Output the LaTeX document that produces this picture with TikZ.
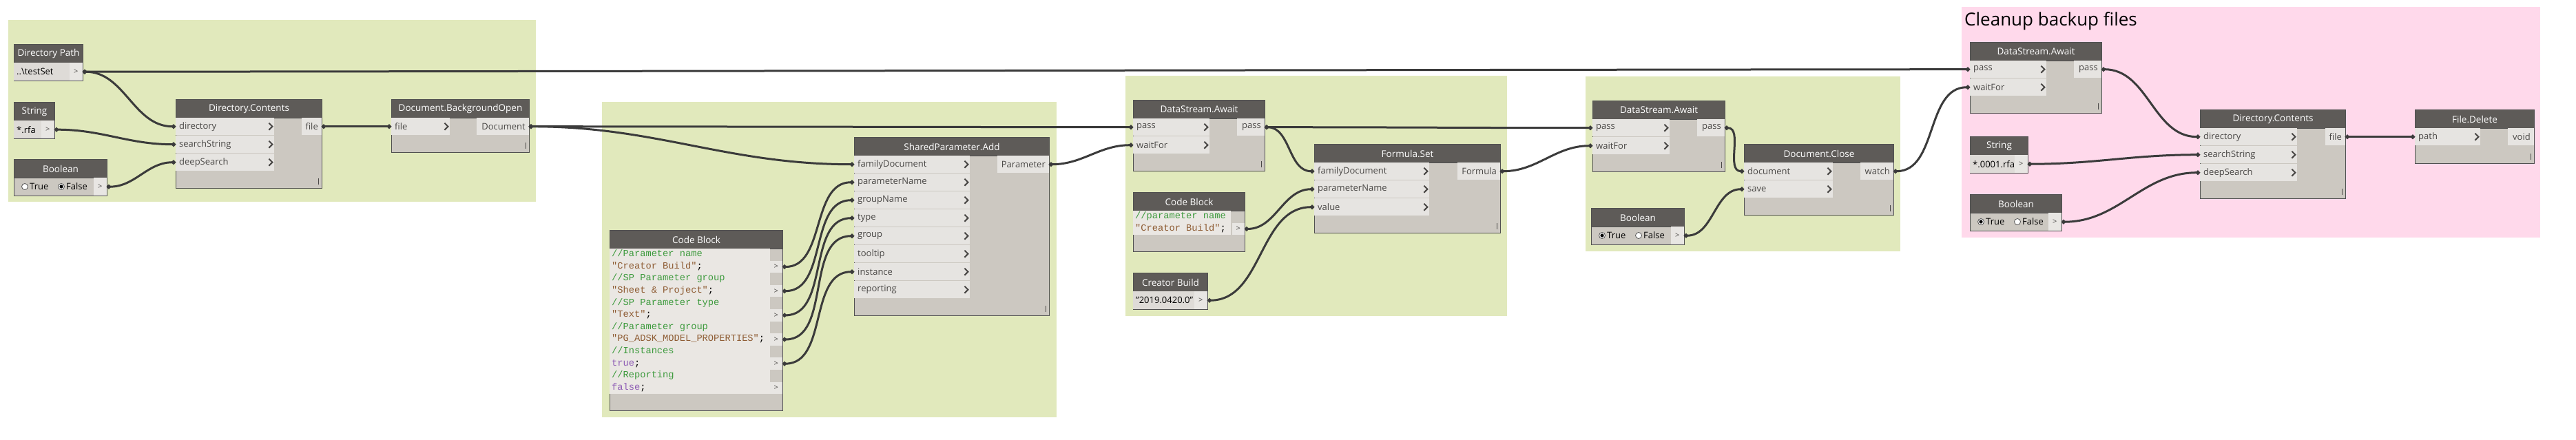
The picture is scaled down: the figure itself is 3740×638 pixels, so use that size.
\documentclass[tikz,border=0pt]{standalone}
\usepackage{fontspec}
\setmainfont{Open Sans}
\setmonofont{Liberation Mono}
\usetikzlibrary{arrows.meta}
\definecolor{grpgreen}{HTML}{E1E9BC}
\definecolor{grppink}{HTML}{FFD9EB}
\definecolor{headc}{HTML}{5E5B58}
\definecolor{bodyc}{HTML}{CCC8C1}
\definecolor{rowc}{HTML}{E6E4E1}
\definecolor{cellc}{HTML}{E8E6E3}
\definecolor{valc}{HTML}{DEDBD7}
\definecolor{edgec}{HTML}{505050}
\definecolor{wirec}{HTML}{3B3B3B}
\definecolor{labelc}{HTML}{4A4846}
\definecolor{codebg}{HTML}{EAE7E3}
\definecolor{cmtgreen}{HTML}{3C9A3C}
\definecolor{strbrown}{HTML}{8E5C33}
\definecolor{kwpurple}{HTML}{8E5CB5}
\tikzset{
  grp/.style={anchor=north west, inner sep=0},
  grptitle/.style={font=\fontsize{26}{30}\selectfont, anchor=base west, inner sep=0},
  dynbody/.style={anchor=north west, fill=bodyc, draw=edgec, line width=1pt, inner sep=0},
  dynhead/.style={
    anchor=north west,
    fill=headc,
    draw=edgec,
    line width=1pt,
    inner sep=0,
    minimum height=27pt,
    text=white,
    font=\fontsize{13.5}{15}\selectfont
  },
  inrow/.style={anchor=north west, fill=rowc, inner sep=0, minimum height=25pt},
  outrow/.style={anchor=north east, fill=rowc, inner sep=0, minimum height=25pt},
  portlbl/.style={font=\fontsize{13}{15}\selectfont, text=labelc, inner xsep=5pt, inner ysep=0},
  chev/.style={draw=labelc, line width=2pt},
  outcell/.style={
    anchor=north east,
    fill=cellc,
    inner sep=0,
    minimum width=19pt,
    minimum height=26pt,
    font=\fontsize{11}{13}\selectfont,
    text=labelc
  },
  codecell/.style={outcell, minimum width=18pt, minimum height=17.5pt},
  valbox/.style={anchor=north west, fill=valc, inner sep=0, minimum height=26pt},
  vallbl/.style={font=\fontsize{13}{15}\selectfont, text=black, inner xsep=4pt, inner ysep=0},
  radio/.style={circle, draw=edgec, fill=white, line width=0.8pt, inner sep=0, minimum size=9pt},
  code/.style={anchor=west, inner sep=0, text height=8pt, text depth=2pt, font=\ttfamily\fontsize{13.7}{15}\selectfont},
  longwire/.style={
    draw=wirec,
    line width=3pt,
    {Circle[length=6pt,width=6pt]}-{Circle[length=6pt,width=6pt]}
  },
  wire/.style={longwire, out=0, in=180},
  tickline/.style={draw=labelc, line width=1pt}
}
% frame and header of a Dynamo node
\newcommand{\dynnode}[6]{%
  \node[dynbody, minimum width=#4pt-#2pt, minimum height=#5pt-#3pt] (#1) at (#2,#3) {};
  \node[dynhead, minimum width=#4pt-#2pt] (#1-head) at (#2,#3) {#6};
}
\newcommand{\funcnode}[6]{%
  \dynnode{#1}{#2}{#3}{#4}{#5}{#6}
  \draw[tickline] ([shift={(-6pt,6pt)}]#1.south east) -- ++(0pt,9pt);
}
\newcommand{\inport}[5]{%
  \node[inrow, minimum width=#4pt] (#1) at (#2,#3) {};
  \node[portlbl, anchor=west] (#1-lbl) at (#1.west) {#5};
  \draw[chev] ([shift={(-8pt,5pt)}]#1.east) -- ([shift={(-3pt,0pt)}]#1.east) -- ([shift={(-8pt,-5pt)}]#1.east);
}
\newcommand{\outport}[5]{%
  \node[outrow, minimum width=#4pt] (#1) at (#2,#3) {};
  \node[portlbl, anchor=east] (#1-lbl) at (#1.east) {#5};
}
\newcommand{\valnode}[6]{%
  \dynnode{#1}{#2}{#3}{#4}{#3+53}{#5}
  \node[valbox, minimum width=#4pt-#2pt-19pt] (#1-val) at (#2,#3+27) {};
  \node[vallbl, anchor=west] (#1-txt) at (#1-val.west) {#6};
  \node[outcell] (#1-out) at (#4,#3+27) {>};
}
\newcommand{\boolnode}[5]{%
  \dynnode{#1}{#2}{#3}{#4}{#3+53}{Boolean}
  \node[outcell] (#1-out) at (#4,#3+27) {>};
  \node[radio] (#1-t) at (#2+16,#3+40) {};
  \node[vallbl, anchor=west] (#1-tl) at (#2+19,#3+40) {True};
  \node[radio] (#1-f) at (#2+69,#3+40) {};
  \node[vallbl, anchor=west] (#1-fl) at (#2+72,#3+40) {False};
  \fill[black] (#1-#5) circle (2.6pt);
}

\begin{document}
\begin{tikzpicture}[x=1pt, y=-1pt]

\useasboundingbox (0,0) rectangle (3740,638);
\fill[white] (0,0) rectangle (3740,638);

% groups
\node[grp, fill=grpgreen, minimum width=766pt, minimum height=264pt] (grp1) at (12,29) {};
\node[grp, fill=grpgreen, minimum width=660pt, minimum height=458pt] (grp2) at (874,148) {};
\node[grp, fill=grpgreen, minimum width=554pt, minimum height=349pt] (grp3) at (1634,110) {};
\node[grp, fill=grpgreen, minimum width=457pt, minimum height=254pt] (grp4) at (2302,111) {};
\node[grp, fill=grppink, minimum width=840pt, minimum height=335pt] (grp5) at (2848,10) {};
\node[grptitle] (grp5-title) at (2852,37) {Cleanup backup files};

% inputs of the first group
\valnode{dirpath}{20}{64}{120}{Directory Path}{..\textbackslash testSet}
\valnode{str1}{20}{148}{79}{String}{*.rfa}
\boolnode{bool1}{20}{231}{155}{f}

\funcnode{dc1}{255}{144}{467}{273}{Directory.Contents}
\inport{dc1-dir}{255}{171}{143}{directory}
\inport{dc1-search}{255}{197}{143}{searchString}
\inport{dc1-deep}{255}{223}{143}{deepSearch}
\outport{dc1-file}{467}{171}{29}{file}

\funcnode{open}{568}{144}{768}{221}{Document.BackgroundOpen}
\inport{open-file}{568}{171}{85}{file}
\outport{open-doc}{768}{171}{76}{Document}

% shared parameter
\funcnode{spa}{1240}{199}{1523}{458}{SharedParameter.Add}
\inport{spa-famdoc}{1240}{226}{168}{familyDocument}
\inport{spa-pname}{1240}{252}{168}{parameterName}
\inport{spa-gname}{1240}{278}{168}{groupName}
\inport{spa-type}{1240}{304}{168}{type}
\inport{spa-group}{1240}{330}{168}{group}
\inport{spa-tip}{1240}{356}{168}{tooltip}
\inport{spa-inst}{1240}{382}{168}{instance}
\inport{spa-rep}{1240}{408}{168}{reporting}
\outport{spa-param}{1523}{226}{75}{Parameter}

\dynnode{cb1}{885}{334}{1136}{596}{Code Block}
\fill[codebg] (885,361) rectangle (1118,572);
\foreach \i in {2,4,...,12}
  \node[codecell] (cb1-out\i) at (1136,{361+17.58*(\i-1)}) {>};
\node[code, text=cmtgreen] (cb1-l1) at (888,369.8) {//Parameter name};
\node[code] (cb1-l2) at (888,387.4) {\textcolor{strbrown}{"Creator Build"};};
\node[code, text=cmtgreen] (cb1-l3) at (888,404.9) {//SP Parameter group};
\node[code] (cb1-l4) at (888,422.5) {\textcolor{strbrown}{"Sheet \& Project"};};
\node[code, text=cmtgreen] (cb1-l5) at (888,440.1) {//SP Parameter type};
\node[code] (cb1-l6) at (888,457.7) {\textcolor{strbrown}{"Text"};};
\node[code, text=cmtgreen] (cb1-l7) at (888,475.3) {//Parameter group};
\node[code] (cb1-l8) at (888,492.8) {\textcolor{strbrown}{"PG\_ADSK\_MODEL\_PROPERTIES"};};
\node[code, text=cmtgreen] (cb1-l9) at (888,510.4) {//Instances};
\node[code] (cb1-l10) at (888,528.0) {\textcolor{kwpurple}{true};};
\node[code, text=cmtgreen] (cb1-l11) at (888,545.6) {//Reporting};
\node[code] (cb1-l12) at (888,563.2) {\textcolor{kwpurple}{false};};

% formula
\funcnode{await1}{1645}{145}{1836}{248}{DataStream.Await}
\inport{await1-pass}{1645}{172}{111}{pass}
\inport{await1-wait}{1645}{198}{111}{waitFor}
\outport{await1-out}{1836}{172}{40}{pass}

\dynnode{cb2}{1645}{279}{1807}{365}{Code Block}
\fill[codebg] (1645,306) rectangle (1787,341);
\node[codecell] (cb2-out2) at (1807,323.5) {>};
\node[code, text=cmtgreen] (cb2-l1) at (1648,314.8) {//parameter name};
\node[code] (cb2-l2) at (1648,332.3) {\textcolor{strbrown}{"Creator Build"};};

\valnode{build}{1645}{396}{1753}{Creator Build}{"2019.0420.0"}

\funcnode{fset}{1908}{209}{2178}{338}{Formula.Set}
\inport{fset-famdoc}{1908}{236}{167}{familyDocument}
\inport{fset-pname}{1908}{262}{167}{parameterName}
\inport{fset-value}{1908}{288}{167}{value}
\outport{fset-out}{2178}{236}{62}{Formula}

% close
\funcnode{await2}{2312}{146}{2504}{249}{DataStream.Await}
\inport{await2-pass}{2312}{173}{112}{pass}
\inport{await2-wait}{2312}{199}{112}{waitFor}
\outport{await2-out}{2504}{173}{40}{pass}

\boolnode{bool2}{2310}{302}{2445}{t}

\funcnode{close}{2532}{209}{2749}{312}{Document.Close}
\inport{close-doc}{2532}{236}{129}{document}
\inport{close-save}{2532}{262}{129}{save}
\outport{close-watch}{2749}{236}{48}{watch}

% cleanup
\funcnode{await3}{2860}{61}{3051}{164}{DataStream.Await}
\inport{await3-pass}{2860}{88}{111}{pass}
\inport{await3-wait}{2860}{114}{111}{waitFor}
\outport{await3-out}{3051}{88}{40}{pass}

\valnode{str3}{2860}{198}{2944}{String}{*.0001.rfa}
\boolnode{bool3}{2860}{282}{2993}{t}

\funcnode{dc2}{3194}{159}{3405}{288}{Directory.Contents}
\inport{dc2-dir}{3194}{186}{141}{directory}
\inport{dc2-search}{3194}{212}{141}{searchString}
\inport{dc2-deep}{3194}{238}{141}{deepSearch}
\outport{dc2-file}{3405}{186}{29}{file}

\funcnode{fdel}{3506}{159}{3679}{237}{File.Delete}
\inport{fdel-path}{3506}{186}{95}{path}
\outport{fdel-void}{3679}{186}{38}{void}

% wires
\draw[wire] (dirpath-out.east) to (dc1-dir.west);
\draw[longwire] (dirpath-out.east) .. controls +(300,0) and +(-300,0) .. (await3-pass.west);
\draw[wire] (str1-out.east) to (dc1-search.west);
\draw[wire] (bool1-out.east) to (dc1-deep.west);
\draw[wire] (dc1-file.east) to (open-file.west);
\draw[longwire] (open-doc.east) .. controls +(150,0) and +(-150,0) .. (await1-pass.west);
\draw[wire] (open-doc.east) to (spa-famdoc.west);
\draw[wire] (spa-param.east) to (await1-wait.west);
\draw[wire] (cb1-out2.east) to (spa-pname.west);
\draw[wire] (cb1-out4.east) to (spa-gname.west);
\draw[wire] (cb1-out6.east) to (spa-type.west);
\draw[wire] (cb1-out8.east) to (spa-group.west);
\draw[wire] (cb1-out10.east) to (spa-inst.west);
\draw[wire] (await1-out.east) to (fset-famdoc.west);
\draw[wire] (await1-out.east) to (await2-pass.west);
\draw[wire] (cb2-out2.east) to (fset-pname.west);
\draw[wire] (build-out.east) to (fset-value.west);
\draw[wire] (fset-out.east) to (await2-wait.west);
\draw[wire] (await2-out.east) to (close-doc.west);
\draw[wire] (bool2-out.east) to (close-save.west);
\draw[wire] (close-watch.east) to (await3-wait.west);
\draw[wire] (await3-out.east) to (dc2-dir.west);
\draw[wire] (str3-out.east) to (dc2-search.west);
\draw[wire] (bool3-out.east) to (dc2-deep.west);
\draw[wire] (dc2-file.east) to (fdel-path.west);

\end{tikzpicture}
\end{document}
